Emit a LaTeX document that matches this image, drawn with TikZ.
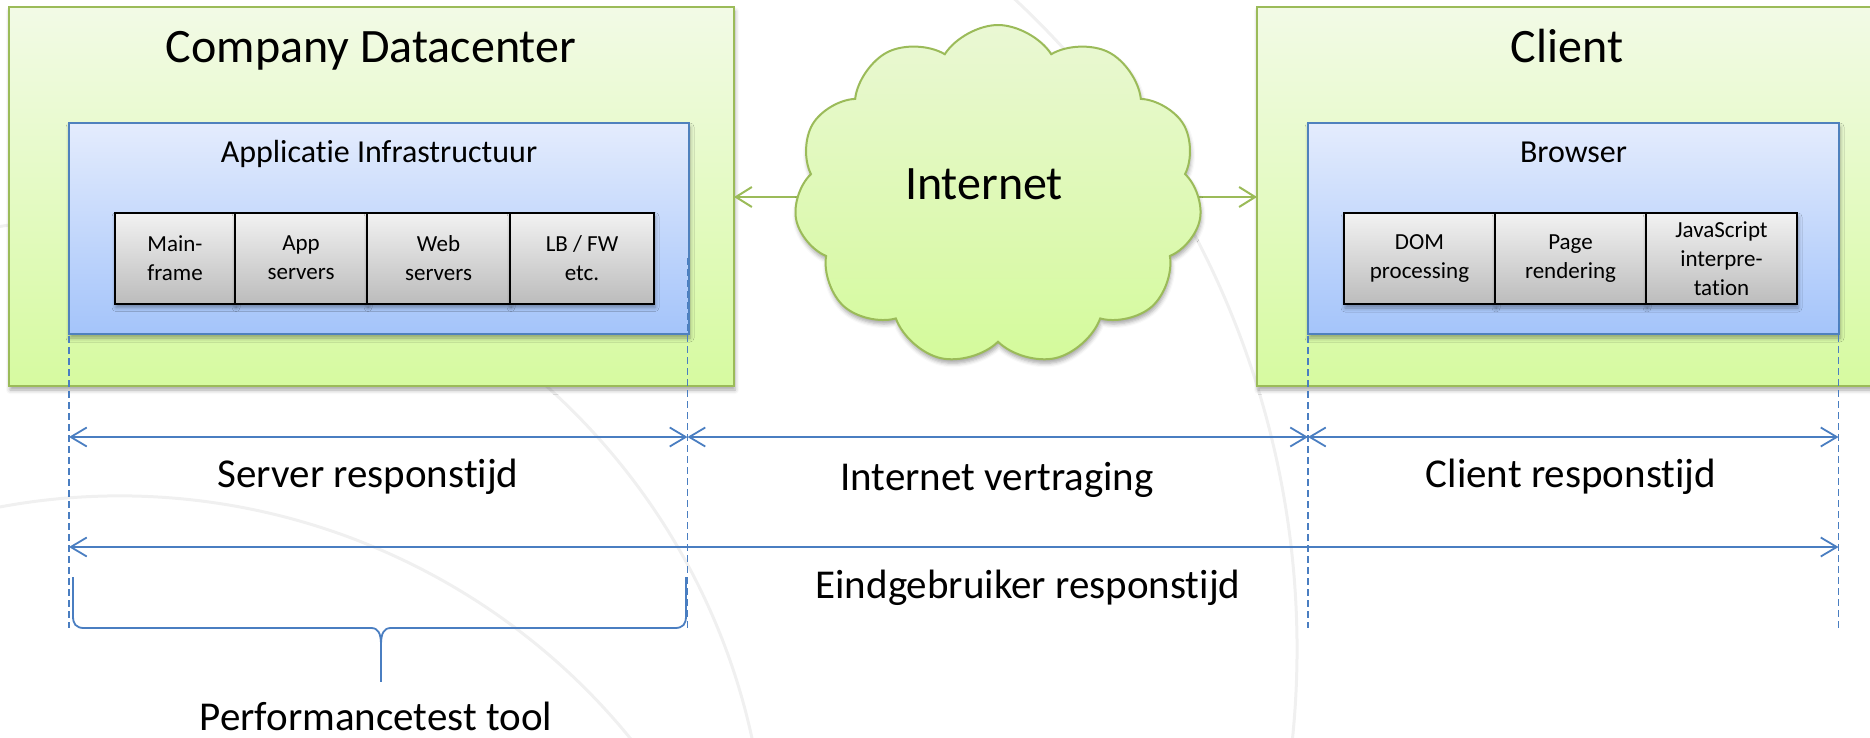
\documentclass[tikz,border=0pt]{standalone}
\usepackage{fontspec}
\setmainfont{Carlito}[Ligatures=NoCommon]
\usetikzlibrary{arrows.meta,shapes.symbols,shadows.blur}
\definecolor{gborder}{RGB}{155,187,89}
\definecolor{gtop}{RGB}{242,250,230}
\definecolor{gbot}{RGB}{214,250,160}
\definecolor{bborder}{RGB}{79,129,189}
\definecolor{btop}{RGB}{228,236,253}
\definecolor{bbot}{RGB}{164,196,250}
\definecolor{ctop}{RGB}{234,248,212}
\definecolor{cbot}{RGB}{212,250,155}
\definecolor{dline}{RGB}{74,126,193}
\definecolor{celltop}{RGB}{242,242,242}
\definecolor{cellbot}{RGB}{188,188,188}
\definecolor{arcgray}{RGB}{240,240,240}
\begin{document}
\begin{tikzpicture}[x=1pt,y=-1pt,
  every node/.style={inner sep=0pt, outer sep=0pt, text=black},
  softshadow/.style={blur shadow={shadow xshift=1pt, shadow yshift=-4pt, shadow blur radius=4pt, shadow opacity=35}},
  zone/.style={draw=gborder, line width=2.5pt, top color=gtop, bottom color=gbot, softshadow},
  layer/.style={draw=bborder, line width=2pt, top color=btop, bottom color=bbot, softshadow},
  cell/.style={draw=black, line width=2pt, top color=celltop, bottom color=cellbot, align=center,
    font=\fontsize{23}{29}\selectfont, minimum height=91pt, softshadow},
  ftitle/.style={font=\fontsize{48}{57}\selectfont},
  fsub/.style={font=\fontsize{32}{38}\selectfont},
  flabel/.style={font=\fontsize{41}{49}\selectfont},
  garrow/.style={draw=gborder, line width=2pt, -{Straight Barb[length=16pt,width=20pt]}},
  dimline/.style={draw=dline, line width=1.8pt, {Straight Barb[length=16pt,width=19pt]}-{Straight Barb[length=16pt,width=19pt]}},
  guide/.style={draw=dline, line width=1.5pt, dash pattern=on 7pt off 4pt},
  bgarc/.style={draw=arcgray, line width=3pt},
  bracepath/.style={draw=dline, line width=1.8pt}
]
\useasboundingbox (0,0) rectangle (1870,738);
\clip (0,0) rectangle (1870,738);

% faint background arcs
\draw[bgarc] (408,649) ++(-58:889) arc[start angle=-58, end angle=12, radius=889];
\draw[bgarc] (120,1154) ++(-112:658) arc[start angle=-112, end angle=-25, radius=658];
\draw[bgarc] (106,879) ++(-180:661) arc[start angle=-180, end angle=0, radius=661];

% green zones
\node[zone, minimum width=725pt, minimum height=379pt] (dc) at (371.5,196.5) {};
\node[zone, minimum width=620pt, minimum height=379pt] (cl) at (1567,196.5) {};
\node[ftitle, anchor=base] (dct) at (371,63) {Company Datacenter};
\node[ftitle, anchor=base] (clt) at (1567,63) {Client};

% blue layers
\node[layer, minimum width=620pt, minimum height=211pt] (app) at (379,228.5) {};
\node[layer, minimum width=531pt, minimum height=211pt] (br) at (1573.5,228.5) {};
\node[fsub, anchor=base] (appt) at (379,163) {Applicatie Infrastructuur};
\node[fsub, anchor=base] (brt) at (1573.5,163) {Browser};

% cells
\node[cell, minimum width=120pt] (c1) at (175,258) {Main-\\frame};
\node[cell, minimum width=132pt] (c2) at (301,258) {App\\servers};
\node[cell, minimum width=143pt] (c3) at (438.5,258) {Web\\servers};
\node[cell, minimum width=144pt] (c4) at (582,258) {LB / FW\\etc.};
\node[cell, minimum width=151pt] (b1) at (1419.5,258.5) {DOM\\processing};
\node[cell, minimum width=151pt] (b2) at (1570.5,258.5) {Page\\rendering};
\node[cell, minimum width=151pt] (b3) at (1721.5,258.5) {JavaScript\\interpre-\\tation};

% green arrows and cloud
\coordinate (nL) at (810,197);
\coordinate (nR) at (1190,197);
\draw[garrow] (nL) -- (nL -| dc.east);
\draw[garrow] (nR) -- (nR -| cl.west);
\node[cloud, cloud puffs=11, cloud puff arc=115, aspect=1.2, draw=gborder, line width=2pt,
  top color=ctop, bottom color=cbot, minimum width=408pt, minimum height=340pt, softshadow] (net) at (998,195) {};
\node[ftitle, anchor=base] (nett) at (984,200) {Internet};

% guide lines
\coordinate (v1a) at (69,336);   \coordinate (v1b) at (69,628);
\coordinate (v2a) at (687.5,258); \coordinate (v2b) at (687.5,628);
\coordinate (v3a) at (1308,336); \coordinate (v3b) at (1308,628);
\coordinate (v4a) at (1838.5,258); \coordinate (v4b) at (1838.5,628);
\draw[guide] (v1a) -- (v1b);
\draw[guide] (v2a) -- (v2b);
\draw[guide] (v3a) -- (v3b);
\draw[guide] (v4a) -- (v4b);

% dimension lines
\coordinate (r1) at (69,437);
\coordinate (r2) at (687.5,437);
\coordinate (r3) at (1308,437);
\coordinate (r4) at (1838.5,437);
\coordinate (e1) at (69,547);
\coordinate (e2) at (1838.5,547);
\draw[dimline] (r1) -- (r2);
\draw[dimline] (r2) -- (r3);
\draw[dimline] (r3) -- (r4);
\draw[dimline] (e1) -- (e2);

\node[flabel, anchor=base] (l1) at (368,487) {Server responstijd};
\node[flabel, anchor=base] (l2) at (997,490) {Internet vertraging};
\node[flabel, anchor=base] (l3) at (1571,487) {Client responstijd};
\node[flabel, anchor=base] (l4) at (1028,598) {Eindgebruiker responstijd};

% brace
\draw[bracepath] (73,577) -- (73,616) .. controls (73,624) and (76,628) .. (84,628) -- (371,628)
  .. controls (378,628) and (381,633) .. (381,645)
  .. controls (381,633) and (384,628) .. (391,628) -- (675,628)
  .. controls (683,628) and (686,624) .. (686,616) -- (686,577);
\draw[bracepath] (381,644) -- (381,682);
\node[flabel, anchor=base] (l5) at (376,730) {Performancetest tool};
\end{tikzpicture}
\end{document}
